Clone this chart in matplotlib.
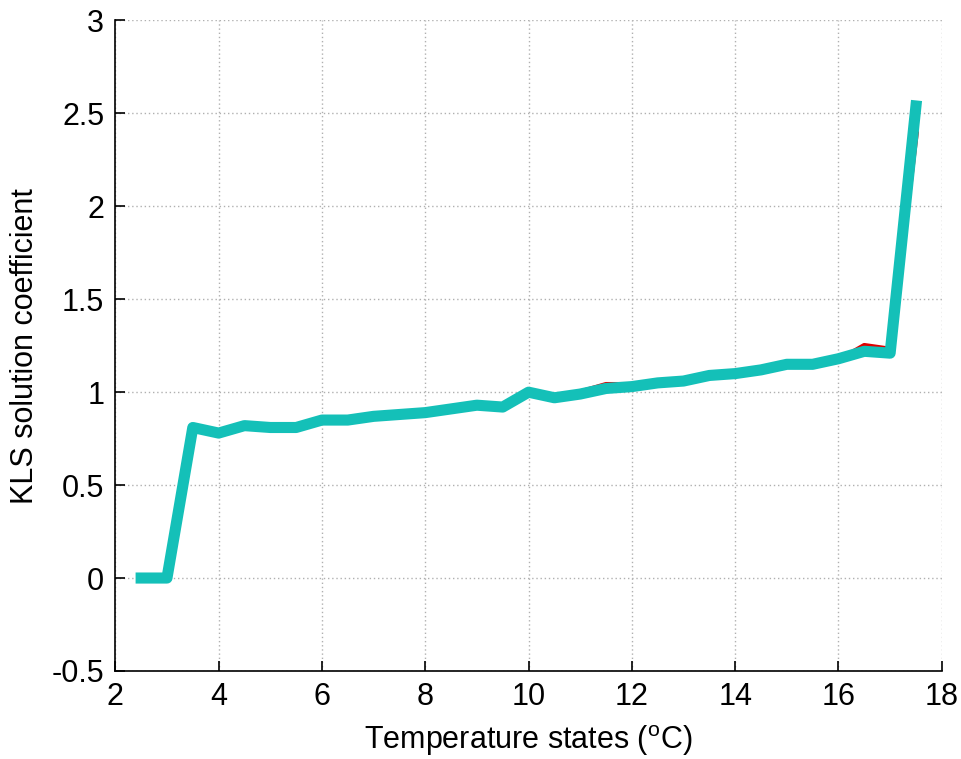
import matplotlib
matplotlib.use("Agg")
import matplotlib.pyplot as plt
from matplotlib.ticker import FuncFormatter

plt.rcParams['font.family'] = ['Liberation Sans', 'DejaVu Sans']
plt.rcParams['mathtext.fontset'] = 'custom'
plt.rcParams['mathtext.rm'] = 'Liberation Sans'
plt.rcParams['axes.unicode_minus'] = False

# temperature states (deg C)
temps = [2.5, 3.0, 3.5, 4.0, 4.5, 5.0, 5.5, 6.0, 6.5, 7.0, 7.5, 8.0, 8.5, 9.0, 9.5, 10.0,
         10.5, 11.0, 11.5, 12.0, 12.5, 13.0, 13.5, 14.0, 14.5, 15.0, 15.5, 16.0, 16.5, 17.0, 17.5]

# KLS solution coefficients for each run
coef_red = [0, 0, 0.80, 0.78, 0.82, 0.81, 0.81, 0.86, 0.85, 0.87, 0.88, 0.89, 0.91, 0.94, 0.92, 1.00,
            0.97, 1.00, 1.04, 1.04, 1.05, 1.07, 1.09, 1.10, 1.12, 1.16, 1.14, 1.17, 1.25, 1.23, 2.39]
coef_orange = [0, 0, 0.80, 0.79, 0.82, 0.81, 0.80, 0.85, 0.85, 0.87, 0.88, 0.89, 0.91, 0.93, 0.92, 1.00,
               0.96, 0.99, 1.02, 1.03, 1.05, 1.06, 1.08, 1.10, 1.11, 1.15, 1.15, 1.18, 1.22, 1.21, 2.52]
coef_blue = [0, 0, 0.80, 0.77, 0.82, 0.81, 0.80, 0.85, 0.86, 0.88, 0.88, 0.90, 0.92, 0.94, 0.92, 1.00,
             0.97, 0.98, 1.02, 1.03, 1.05, 1.06, 1.08, 1.09, 1.11, 1.15, 1.16, 1.18, 1.22, 1.20, 2.53]
coef_cyan = [0, 0, 0.81, 0.78, 0.82, 0.81, 0.81, 0.85, 0.85, 0.87, 0.88, 0.89, 0.91, 0.93, 0.92, 1.00,
             0.97, 0.99, 1.02, 1.03, 1.05, 1.06, 1.09, 1.10, 1.12, 1.15, 1.15, 1.18, 1.22, 1.21, 2.54]

fig = plt.figure(figsize=(9.61, 7.59), dpi=100)
ax = fig.add_axes([0.12, 0.116, 0.86, 0.857])

ax.plot(temps, coef_red, color='#e00000', lw=4, zorder=3)
ax.plot(temps, coef_orange, color='#f0b000', lw=4, zorder=3)
ax.plot(temps, coef_blue, color='#1a1aa8', lw=4, zorder=3)
ax.plot(temps, coef_cyan, color='#14c0b8', lw=8, zorder=4)

ax.set_xlim(2, 18)
ax.set_ylim(-0.5, 3)
ax.set_xticks(range(2, 19, 2))
ax.set_yticks([-0.5, 0, 0.5, 1, 1.5, 2, 2.5, 3])
ax.yaxis.set_major_formatter(FuncFormatter(lambda v, p: f"{v:g}"))

ax.grid(True, linestyle=(0, (1, 2)), color='#b0b0b0', linewidth=1)
ax.set_axisbelow(True)
ax.spines['top'].set_visible(False)
ax.spines['right'].set_visible(False)
for s in ('left', 'bottom'):
    ax.spines[s].set_linewidth(1.2)
ax.tick_params(direction='in', length=7, width=1.2, labelsize=22, pad=8)

ax.set_xlabel(r'Temperature states ($^{\mathrm{o}}$C)', fontsize=22, labelpad=8)
ax.set_ylabel('KLS solution coefficient', fontsize=22, labelpad=8)

fig.savefig('out.png', dpi=100)
